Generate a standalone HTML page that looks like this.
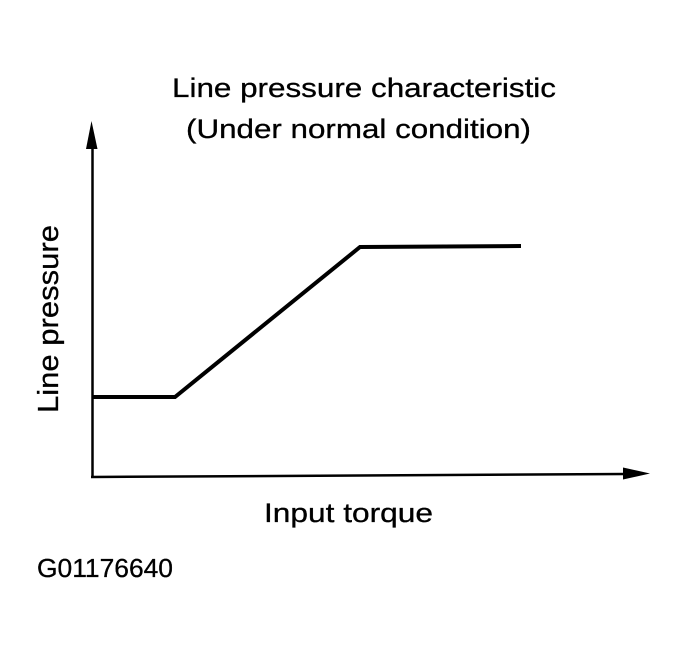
<!DOCTYPE html>
<html>
<head>
<meta charset="utf-8">
<style>
  html, body { margin: 0; padding: 0; background: #fff; }
  body { width: 687px; height: 650px; overflow: hidden; }
  svg { display: block; }
  text { font-family: "Liberation Sans", Arial, sans-serif; fill: #000; stroke: #000; stroke-width: 0.3; }
</style>
</head>
<body>
<svg width="687" height="650" viewBox="0 0 687 650" xmlns="http://www.w3.org/2000/svg">
  <rect width="687" height="650" fill="#fff"/>

  <!-- Title -->
  <text x="172" y="97" font-size="27" textLength="384" lengthAdjust="spacingAndGlyphs">Line pressure characteristic</text>
  <text x="186" y="138" font-size="27" textLength="345" lengthAdjust="spacingAndGlyphs">(Under normal condition)</text>

  <!-- Y axis -->
  <line x1="92.5" y1="145" x2="92.5" y2="478" stroke="#000" stroke-width="2.5"/>
  <polygon points="91.5,121 86,149 97.5,149" fill="#000"/>

  <!-- X axis -->
  <line x1="91" y1="477" x2="626" y2="474" stroke="#000" stroke-width="2.5"/>
  <polygon points="650,473.5 623,467.5 623,479.5" fill="#000"/>

  <!-- Data line -->
  <polyline points="92,397 175,397 360,247 521,246" fill="none" stroke="#000" stroke-width="4" stroke-linejoin="miter"/>

  <!-- Y label -->
  <text transform="translate(58,413) rotate(-90)" x="0" y="0" font-size="29" textLength="188" lengthAdjust="spacingAndGlyphs">Line pressure</text>

  <!-- X label -->
  <text x="264" y="522" font-size="27" textLength="169" lengthAdjust="spacingAndGlyphs">Input torque</text>

  <!-- Figure code -->
  <text x="37" y="577" font-size="26" textLength="136" lengthAdjust="spacingAndGlyphs">G01176640</text>
</svg>
</body>
</html>
